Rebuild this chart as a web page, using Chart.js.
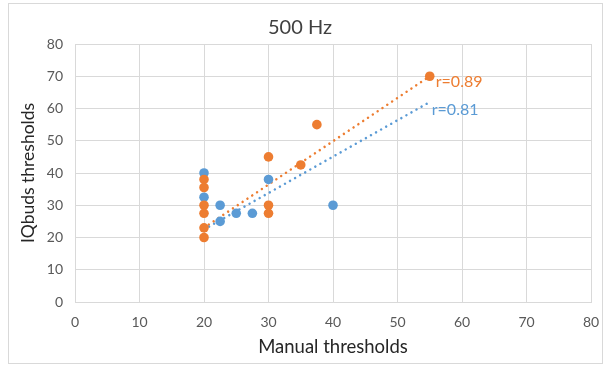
<!DOCTYPE html>
<html>
<head>
<meta charset="utf-8">
<script src="https://cdn.jsdelivr.net/npm/chart.js@4.4.0/dist/chart.umd.min.js"></script>
<style>
  body { margin: 0; background: #fff; }
  #wrap {
    position: absolute; left: 8px; top: 3px;
    width: 593px; height: 359px;
    border: 1px solid #d9d9d9;
  }
</style>
</head>
<body>
<div id="wrap"><canvas id="chart" width="593" height="359"></canvas></div>
<script>
// values
const blueX = [20, 20, 22.5, 22.5, 25, 27.5, 30, 40];
const blueY = [40, 32.5, 30, 25, 27.5, 27.5, 38, 30];
const orangeX = [20, 20, 20, 20, 20, 20, 30, 30, 30, 35, 37.5, 55];
const orangeY = [38, 35.5, 30, 27.5, 23, 20, 45, 30, 27.5, 42.5, 55, 70];

// trendline ends
const blueTrendX = [20, 55];
const blueTrendY = [22.5, 62];
const orangeTrendX = [20, 55];
const orangeTrendY = [23, 70];
const rLabels = ["r=0.81", "r=0.89"];

const xTicks = [0, 10, 20, 30, 40, 50, 60, 70, 80];
const yTicks = [0, 10, 20, 30, 40, 50, 60, 70, 80];

const BLUE = "#5b9bd5";
const ORANGE = "#ed7d31";
const FONT = "Lato";

const pts = (xs, ys) => xs.map((x, i) => ({ x, y: ys[i] }));

const trendLabels = {
  id: "trendLabels",
  afterDatasetsDraw(chart) {
    const { ctx, scales } = chart;
    ctx.save();
    ctx.font = `16px ${FONT}`;
    ctx.textBaseline = "middle";
    ctx.fillStyle = ORANGE;
    ctx.fillText(rLabels[1], scales.x.getPixelForValue(orangeTrendX[1]) + 6, scales.y.getPixelForValue(orangeTrendY[1]) + 6);
    ctx.fillStyle = BLUE;
    ctx.fillText(rLabels[0], scales.x.getPixelForValue(blueTrendX[1]) + 2, scales.y.getPixelForValue(blueTrendY[1]) + 8);
    ctx.restore();
  },
};

const dotted = (color) => ({
  showLine: true,
  pointRadius: 0,
  borderColor: color,
  borderWidth: 2.5,
  borderDash: [0.01, 5.8],
  borderCapStyle: "round",
  fill: false,
});

new Chart(document.getElementById("chart"), {
  type: "scatter",
  data: {
    datasets: [
      { data: pts(blueTrendX, blueTrendY), ...dotted(BLUE), order: 3 },
      { data: pts(orangeTrendX, orangeTrendY), ...dotted(ORANGE), order: 3 },
      { data: pts(blueX, blueY), backgroundColor: BLUE, borderColor: BLUE, pointRadius: 4.8, borderWidth: 0, order: 2 },
      { data: pts(orangeX, orangeY), backgroundColor: ORANGE, borderColor: ORANGE, pointRadius: 4.8, borderWidth: 0, order: 1 },
    ],
  },
  options: {
    responsive: false,
    animation: false,
    layout: { padding: { left: 0, right: 11, top: 0, bottom: 0 } },
    plugins: {
      legend: { display: false },
      tooltip: { enabled: false },
      title: {
        display: true,
        text: "500 Hz",
        color: "#404040",
        font: { family: FONT, size: 20, weight: "normal" },
        padding: { top: 12, bottom: 4 },
      },
    },
    scales: {
      x: {
        type: "linear",
        min: 0,
        max: 80,
        afterBuildTicks: (s) => { s.ticks = xTicks.map((v) => ({ value: v })); },
        afterFit: (s) => { s.height = 61; s.paddingLeft = 0; s.paddingRight = 0; },
        grid: { color: "#d9d9d9", drawTicks: false },
        border: { color: "#d9d9d9" },
        ticks: { color: "#595959", padding: 12, font: { family: FONT, size: 14 } },
        title: { display: true, text: "Manual thresholds", color: "#262626", font: { family: FONT, size: 18.5 }, padding: { top: 4, bottom: 5 } },
      },
      y: {
        type: "linear",
        min: 0,
        max: 80,
        afterBuildTicks: (s) => { s.ticks = yTicks.map((v) => ({ value: v })); },
        afterFit: (s) => { s.width = 66; },
        grid: { color: "#d9d9d9", drawTicks: false },
        border: { color: "#d9d9d9" },
        ticks: { color: "#595959", padding: 12, font: { family: FONT, size: 14 } },
        title: { display: true, text: "IQbuds thresholds", color: "#262626", font: { family: FONT, size: 17.5 }, padding: { top: 9, bottom: 4 } },
      },
    },
  },
  plugins: [trendLabels],
});
</script>
</body>
</html>
